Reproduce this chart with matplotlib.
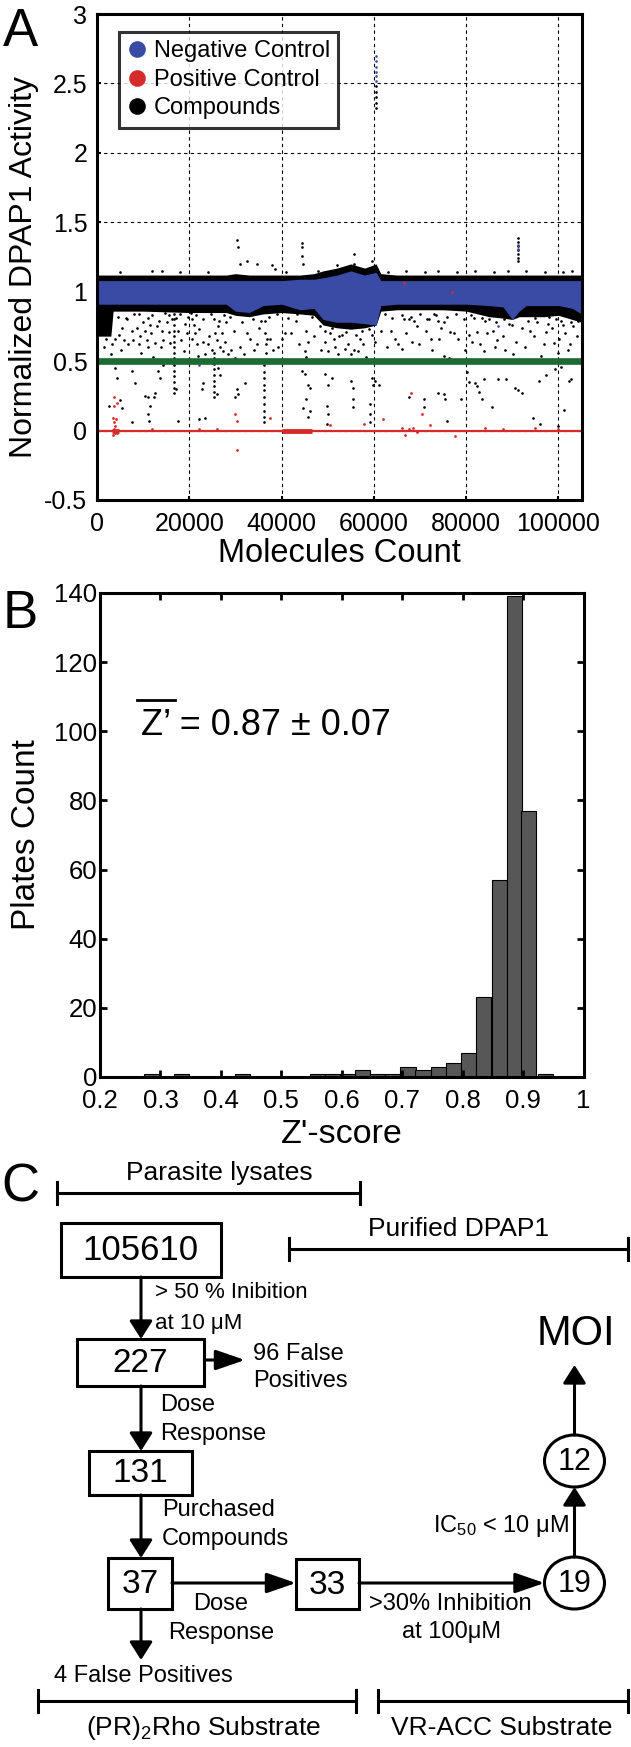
import numpy as np
import matplotlib
matplotlib.use("Agg")
import matplotlib.pyplot as plt
from matplotlib.patches import Rectangle, Ellipse
from matplotlib.lines import Line2D

plt.rcParams["font.family"] = ["Liberation Sans", "DejaVu Sans"]
plt.rcParams["mathtext.fontset"] = "custom"
plt.rcParams["mathtext.rm"] = "Liberation Sans"
plt.rcParams["mathtext.it"] = "Liberation Sans:italic"

# ---------------------------------------------------------------------------
# Panel A data  (molecule index in thousands, normalized activity)
# ---------------------------------------------------------------------------
ENV_X    = [0, 3, 3.5, 10, 20, 28, 30, 33, 36, 40, 44, 47, 49, 52, 55, 58, 60.5, 61.5,
            65, 70, 75, 80, 85, 88, 90, 91.5, 93, 97, 100, 103, 105]
BLACK_LO = [0.68, 0.68, 0.86, 0.86, 0.85, 0.85, 0.83, 0.82, 0.84, 0.85, 0.84, 0.83, 0.76,
            0.74, 0.73, 0.74, 0.76, 0.86, 0.87, 0.87, 0.87, 0.86, 0.82, 0.81, 0.80, 0.82,
            0.82, 0.82, 0.83, 0.80, 0.78]
BLACK_HI = [1.12, 1.12, 1.12, 1.12, 1.12, 1.12, 1.13, 1.12, 1.12, 1.12, 1.12, 1.13, 1.15,
            1.17, 1.20, 1.17, 1.20, 1.13, 1.12, 1.12, 1.12, 1.12, 1.12, 1.12, 1.12, 1.12,
            1.12, 1.12, 1.12, 1.12, 1.12]
BLUE_LO  = [0.91, 0.91, 0.91, 0.91, 0.91, 0.91, 0.86, 0.85, 0.90, 0.91, 0.87, 0.88, 0.80,
            0.78, 0.78, 0.77, 0.76, 0.90, 0.91, 0.91, 0.91, 0.91, 0.90, 0.89, 0.80, 0.86,
            0.90, 0.90, 0.90, 0.88, 0.84]
BLUE_HI  = [1.08, 1.08, 1.08, 1.08, 1.08, 1.08, 1.08, 1.08, 1.08, 1.08, 1.09, 1.09, 1.10,
            1.12, 1.15, 1.12, 1.14, 1.08, 1.08, 1.08, 1.08, 1.08, 1.08, 1.08, 1.08, 1.08,
            1.08, 1.08, 1.08, 1.08, 1.08]

CMPD_X = [4.8, 5.5, 5.9, 6.8, 7.5, 7.9, 8.6, 9.0, 9.3, 10.0, 10.4, 10.8, 11.1, 11.5, 11.8,
          12.6, 13.0, 13.8, 14.0, 14.4, 15.1, 15.5, 15.8, 16.2, 17.6, 18.3, 19.0, 3.2, 4.0,
          6.2, 8.0, 12.0, 14.8, 18.0, 19.5,
          16.7, 16.7, 16.7, 16.7, 16.7, 16.7, 16.7, 16.7, 16.7, 16.7, 16.7, 16.7, 16.7, 16.7, 16.7,
          3.9, 4.3, 7.5, 8.2, 10.4, 11.1, 11.5, 11.1, 11.3, 13.3, 13.6, 14.4, 2.5, 5.0, 5.4,
          7.5, 17.6, 17.2, 12.3, 12.6,
          30.3, 30.5, 32.5, 34.6, 38.0, 31.0, 14.1,
          20.3, 20.6, 21.0, 21.2, 20.5, 21.6, 22.2, 22.9, 24.3, 25.0, 25.3, 25.6, 26.0, 26.3,
          26.6, 27.0, 27.3, 27.6, 28.3, 29.0, 29.6, 29.9, 30.3, 30.6, 31.0, 32.4, 33.2, 34.6,
          35.0, 36.4, 36.5, 36.6, 36.7, 36.8, 38.2, 40.0, 40.7, 23.5, 28.0,
          25.3, 25.3, 25.3, 25.3, 25.3, 25.3, 25.3, 25.3, 25.3,
          36.1, 36.1, 36.1, 36.1, 36.1, 36.1, 36.1, 36.1, 36.1, 36.1, 36.1,
          23.0, 22.8, 26.3, 26.6, 32.0, 29.9, 30.6, 30.3, 26.0, 22.0, 23.4,
          44.4, 44.4, 44.4, 44.7, 55.6, 55.6, 59.5, 52.0,
          43.3, 45.1, 45.4, 45.8, 45.1, 45.4, 49.4, 49.4, 50.1, 50.9, 51.3, 51.6, 53.0, 53.7,
          54.4, 55.1, 55.8, 56.6, 57.7, 58.4, 59.5, 60.2, 61.6, 63.8, 65.2,
          44.4, 45.1, 45.8, 46.2, 45.4, 44.7, 46.2, 45.8, 49.4, 50.1, 50.9, 49.8, 50.1, 55.1,
          55.5, 55.5, 55.5, 59.5, 59.8, 60.2, 61.2, 59.1, 59.1, 59.1, 49.8,
          66.6, 67.6, 68.7, 69.4, 68.3, 72.0, 73.1, 73.8, 75.2, 74.5, 76.6, 77.3, 72.3, 74.1,
          66.2, 72.7, 75.2, 76.3, 81.7, 82.4, 83.1, 83.8, 80.6, 81.3, 83.4,
          67.6, 70.8, 70.8, 73.8, 75.2, 75.5, 78.8, 75.9, 80.2, 80.6, 82.0, 82.4, 82.7, 83.8, 83.4,
          85.0, 85.9, 86.7, 87.6, 88.5, 89.3, 90.2, 91.1, 92.0, 92.8, 94.6, 95.4, 96.3, 97.2,
          98.0, 99.0, 99.8, 100.6, 101.5, 102.4, 103.2, 103.8,
          85.7, 87.0, 88.7, 90.5, 91.3, 92.2, 94.4, 95.7, 97.4, 99.2, 100.5, 101.3, 102.2,
          102.7, 96.0, 100.0,
          5, 12, 18, 24, 38.5, 41, 48, 63, 67, 71, 74, 78, 82, 86, 89, 93, 97, 101, 103,
          91.3, 91.3, 91.2, 91.3, 91.2, 91.3, 91.2,
          60.5, 60.4, 60.5, 60.5, 60.4,
          2, 4.5, 6.5, 9, 11, 13.5, 15.5, 17.2, 19.8, 21.5, 23, 24.8, 26.5, 28.8, 31.5, 33.8,
          35.5, 37.2, 39, 41.5, 43.2, 46.5, 48.3, 50.5, 52.5, 54, 56.2, 57.5, 59, 62.5, 64,
          66, 68, 70, 71.5, 73.5, 75.8, 77.8, 79.5, 81, 84, 86.5, 88.3, 90, 93.5, 95, 97.8,
          99.5, 101, 102.8, 104.3,
          1.5, 3.0, 5.2, 9.6, 12.2, 18.8, 21.8, 24.0, 27.8, 31.8, 34.0, 37.5, 39.3, 42.0,
          43.8, 47.0, 48.6, 52.2, 57.0, 62.8, 64.5, 67.0, 69.8, 71.2, 78.2, 79.8, 84.6, 86.2,
          87.9, 90.8, 93.8, 96.8, 98.6, 100.2, 102.0, 104.0]
CMPD_Y = [0.69, 0.74, 0.65, 0.62, 0.72, 0.65, 0.74, 0.62, 0.68, 0.78, 0.72, 0.65, 0.60, 0.76, 0.70,
          0.63, 0.75, 0.60, 0.72, 0.65, 0.78, 0.71, 0.63, 0.80, 0.72, 0.65, 0.77, 0.62, 0.66,
          0.81, 0.84, 0.83, 0.85, 0.84, 0.70,
          0.84, 0.80, 0.76, 0.72, 0.68, 0.64, 0.60, 0.56, 0.52, 0.47, 0.43, 0.39, 0.35, 0.31, 0.27,
          0.45, 0.38, 0.43, 0.34, 0.25, 0.24, 0.18, 0.12, 0.07, 0.43, 0.38, 0.47, 0.18, 0.22, 0.16,
          0.06, 0.07, 0.30, 0.24, 0.27,
          1.37, 1.32, 1.22, 1.20, 1.19, 1.20, 1.15,
          0.85, 0.80, 0.76, 0.70, 0.66, 0.62, 0.73, 0.64, 0.68, 0.58, 0.80, 0.70, 0.65, 0.75,
          0.60, 0.70, 0.57, 0.83, 0.55, 0.58, 0.72, 0.52, 0.51, 0.50, 0.60, 0.70, 0.66, 0.62,
          0.74, 0.79, 0.70, 0.62, 0.56, 0.66, 0.58, 0.66, 0.70, 0.55, 0.78,
          0.56, 0.52, 0.48, 0.44, 0.40, 0.36, 0.32, 0.28, 0.24,
          0.50, 0.47, 0.42, 0.38, 0.33, 0.29, 0.24, 0.19, 0.14, 0.10, 0.06,
          0.34, 0.30, 0.45, 0.40, 0.34, 0.24, 0.26, 0.30, 0.26, 0.08, 0.09,
          1.35, 1.32, 1.26, 1.20, 1.27, 1.20, 1.22, 1.19,
          0.84, 0.85, 0.72, 0.64, 0.57, 0.53, 0.72, 0.64, 0.57, 0.74, 0.66, 0.60, 0.69, 0.59,
          0.62, 0.55, 0.58, 0.57, 0.62, 0.53, 0.69, 0.64, 0.72, 0.72, 0.62,
          0.43, 0.41, 0.33, 0.31, 0.23, 0.16, 0.14, 0.10, 0.41, 0.33, 0.38, 0.18, 0.12, 0.36,
          0.31, 0.23, 0.17, 0.38, 0.33, 0.36, 0.33, 0.19, 0.12, 0.06, 0.05,
          0.80, 0.80, 0.79, 0.75, 0.64, 0.80, 0.84, 0.79, 0.78, 0.74, 0.71, 0.70, 0.66, 0.66,
          0.59, 0.58, 0.54, 0.52, 0.81, 0.71, 0.62, 0.57, 0.69, 0.64, 0.81,
          0.24, 0.23, 0.17, 0.27, 0.26, 0.23, 0.23, 0.07, 0.42, 0.35, 0.34, 0.32, 0.28, 0.37, 0.23,
          0.80, 0.72, 0.65, 0.84, 0.58, 0.77, 0.55, 0.85, 0.74, 0.60, 0.68, 0.78, 0.54, 0.71,
          0.82, 0.63, 0.56, 0.79, 0.70, 0.62, 0.75, 0.84,
          0.17, 0.37, 0.37, 0.31, 0.29, 0.27, 0.09, 0.36, 0.40, 0.44, 0.46, 0.15, 0.36,
          0.37, 0.05, 0.03,
          1.14, 1.15, 1.14, 1.14, 1.16, 1.14, 1.15, 1.14, 1.15, 1.14, 1.15, 1.14, 1.15, 1.14,
          1.15, 1.15, 1.14, 1.14, 1.15,
          1.39, 1.36, 1.33, 1.30, 1.27, 1.24, 1.22,
          2.48, 2.44, 2.40, 2.36, 2.32,
          0.66, 0.82, 0.80, 0.84, 0.81, 0.79, 0.83, 0.81, 0.82, 0.83, 0.80, 0.84, 0.79, 0.82,
          0.78, 0.80, 0.79, 0.82, 0.84, 0.81, 0.79, 0.82, 0.75, 0.70, 0.68, 0.71, 0.69, 0.72,
          0.73, 0.84, 0.81, 0.83, 0.82, 0.84, 0.80, 0.83, 0.82, 0.84, 0.80, 0.83, 0.79, 0.78,
          0.80, 0.76, 0.79, 0.81, 0.77, 0.80, 0.76, 0.78, 0.79,
          0.60, 0.55, 0.58, 0.56, 0.53, 0.57, 0.54, 0.62, 0.64, 0.55, 0.58, 0.66, 0.60, 0.70,
          0.62, 0.68, 0.58, 0.55, 0.66, 0.60, 0.66, 0.70, 0.62, 0.72, 0.66, 0.58, 0.70, 0.60,
          0.68, 0.64, 0.72, 0.62, 0.74, 0.66, 0.58, 0.68]

NEG_X = [60.5, 60.4, 60.5, 60.5, 60.4, 60.5, 91.3, 91.3, 22.0, 87.0]
NEG_Y = [2.70, 2.66, 2.62, 2.58, 2.55, 2.52, 1.34, 1.31, 0.47, 0.75]

POS_X = [3.6, 4.3, 3.6, 3.4, 3.6, 3.9, 4.1, 3.7, 4.3, 3.5, 4.0, 29.9, 30.3, 37.5, 30.3,
         50.5, 57.8, 62.0, 68.0, 70.5, 66.0, 66.8, 67.6, 68.5, 69.3, 77.5, 66.6, 77.0,
         72.2, 84, 88, 95, 100, 12, 22, 26]
POS_Y = [0.24, 0.20, 0.18, 0.09, 0.06, 0.03, 0.08, 0.01, -0.02, -0.03, -0.02, 0.12, 0.07,
         0.09, -0.14, 0.04, 0.05, 0.08, 0.27, 0.12, 0.02, -0.03, 0.01, 0.02, -0.01, -0.04,
         1.06, 1.00, 0.04, 0.02, 0.01, 0.02, 0.01, 0.01, 0.01, 0.01]
POS_DENSE = [(3.3, 4.7), (40.0, 46.5)]
POS_LEVEL = 0.0
THRESHOLD = 0.5

A_YTICKS  = [-0.5, 0, 0.5, 1, 1.5, 2, 2.5, 3]
A_YLABELS = ["-0.5", "0", "0.5", "1", "1.5", "2", "2.5", "3"]
A_XTICKS  = [0, 20000, 40000, 60000, 80000, 100000]

# ---------------------------------------------------------------------------
# Panel B data  (Z'-score histogram)
# ---------------------------------------------------------------------------
BIN_LEFT = [0.272, 0.322, 0.423, 0.548, 0.572, 0.597, 0.622, 0.647, 0.672, 0.697, 0.722,
            0.747, 0.772, 0.797, 0.822, 0.848, 0.873, 0.897, 0.924]
BIN_W    = 0.0252
COUNTS   = [1, 1, 1, 1, 1, 1, 2, 1, 1, 3, 2, 3, 4, 7, 23, 57, 139, 77, 1]
B_XTICKS = [0.2, 0.3, 0.4, 0.5, 0.6, 0.7, 0.8, 0.9, 1.0]
B_XLABELS = ["0.2", "0.3", "0.4", "0.5", "0.6", "0.7", "0.8", "0.9", "1"]
B_YTICKS = [0, 20, 40, 60, 80, 100, 120, 140]

NEG_BLUE = "#3a4ba6"
POS_RED  = "#d42b2b"
GREEN    = "#1d6b30"

W, H = 631, 1747
fig = plt.figure(figsize=(W / 100, H / 100), dpi=100)


def frac(x0, y0, x1, y1):
    return [x0 / W, 1 - y1 / H, (x1 - x0) / W, (y1 - y0) / H]


# --------------------------- panel A ---------------------------------------
axA = fig.add_axes(frac(97, 14, 581.5, 500))
ex = np.array(ENV_X) * 1000
axA.fill_between(ex, BLACK_LO, BLACK_HI, color="black", lw=0, zorder=2)
axA.plot(np.array(CMPD_X) * 1000, CMPD_Y, "o", color="black", ms=1.9, mew=0, zorder=3)
axA.fill_between(ex, BLUE_LO, BLUE_HI, color=NEG_BLUE, lw=0, zorder=4)
axA.plot(np.array(NEG_X) * 1000, NEG_Y, "o", color=NEG_BLUE, ms=1.9, mew=0, zorder=4)
axA.axhline(POS_LEVEL, color=POS_RED, lw=1.6, zorder=5)
for a, b in POS_DENSE:
    axA.plot([a * 1000, b * 1000], [POS_LEVEL, POS_LEVEL], color=POS_RED, lw=3.5,
             solid_capstyle="butt", zorder=5)
axA.plot(np.array(POS_X) * 1000, POS_Y, "o", color=POS_RED, ms=2.0, mew=0, zorder=6)
axA.axhline(THRESHOLD, color=GREEN, lw=4.8, zorder=7)

axA.set_xlim(0, 105000)
axA.set_ylim(-0.5, 3)
axA.set_yticks(A_YTICKS)
axA.set_yticklabels(A_YLABELS)
axA.set_xticks(A_XTICKS)
axA.set_xticklabels([str(v) for v in A_XTICKS])
axA.grid(True, color="black", lw=0.8, ls=(0, (3, 3)), zorder=1)
axA.set_axisbelow(True)
axA.tick_params(direction="in", length=3, width=1.5, labelsize=18, pad=7)
axA.tick_params(axis="x", pad=9)
for s in axA.spines.values():
    s.set_linewidth(2.2)
    s.set_zorder(10)
axA.set_xlabel("Molecules Count", fontsize=23.5, labelpad=1)
axA.set_ylabel("Normalized DPAP1 Activity", fontsize=23, labelpad=4)
axA.yaxis.set_label_coords(-0.12, 0.48)

handles = [Line2D([], [], ls="none", marker="o", ms=12, mew=0, color=c)
           for c in (NEG_BLUE, POS_RED, "black")]
leg = axA.legend(handles, ["Negative Control", "Positive Control", "Compounds"],
                 loc="upper left", bbox_to_anchor=(0.046, 0.963), borderaxespad=0,
                 fontsize=17, frameon=True, fancybox=False, handlelength=0.8,
                 handletextpad=0.3, labelspacing=0.28, borderpad=0.35)
leg.get_frame().set_edgecolor("black")
leg.get_frame().set_linewidth(2.2)
leg.set_zorder(20)

# --------------------------- panel B ---------------------------------------
axB = fig.add_axes(frac(100, 593, 583.5, 1077))
axB.bar(BIN_LEFT, COUNTS, width=BIN_W, align="edge", color="#575757",
        edgecolor="black", lw=0.8)
axB.set_xlim(0.2, 1.0)
axB.set_ylim(0, 140)
axB.set_xticks(B_XTICKS)
axB.set_xticklabels(B_XLABELS)
axB.set_yticks(B_YTICKS)
axB.tick_params(direction="in", length=5, width=2, labelsize=18.5, top=True, right=True)
axB.tick_params(axis="y", pad=2)
axB.tick_params(axis="x", pad=9)
for s in axB.spines.values():
    s.set_linewidth(2.2)
axB.set_xlabel("Z'-score", fontsize=24.5, labelpad=4)
axB.set_ylabel("Plates Count", fontsize=24, labelpad=4)
axB.yaxis.set_label_coords(-0.12, 0.5)

# --------------------------- overlay: labels + flowchart --------------------
ov = fig.add_axes([0, 0, 1, 1])
ov.set_xlim(0, W)
ov.set_ylim(H, 0)
ov.axis("off")
ov.patch.set_alpha(0)

for lab, (x, y) in {"A": (20, 32), "B": (20, 614), "C": (20, 1188)}.items():
    ov.text(x, y, lab, fontsize=38, ha="center", va="center")

ov.text(141, 725, "Z\u2019 = 0.87 \u00b1 0.07", fontsize=26, ha="left", va="center")
ov.plot([137, 175], [700, 700], color="black", lw=2)

LW = 2.2


def bracket(y, x0, x1):
    ov.plot([x0, x1], [y, y], color="black", lw=LW)
    for x in (x0, x1):
        ov.plot([x, x], [y - 11, y + 11], color="black", lw=LW)


def box(x0, x1, y0, y1, label, size=24):
    ov.add_patch(Rectangle((x0, y0), x1 - x0, y1 - y0, fill=False, lw=LW, ec="black"))
    ov.text((x0 + x1) / 2, (y0 + y1) / 2 + 1, label, fontsize=size, ha="center", va="center")


def circle(cx, cy, label):
    ov.add_patch(Ellipse((cx, cy), 60, 52, fill=False, lw=LW, ec="black"))
    ov.text(cx, cy + 1, label, fontsize=22, ha="center", va="center")


def arrow(x0, y0, x1, y1):
    # heads look wider on vertical arrows and longer on horizontal ones
    if x0 == x1:
        style = "-|>,head_length=1.1,head_width=0.7"
    else:
        style = "-|>,head_length=1.8,head_width=0.62"
    ov.annotate("", xy=(x1, y1), xytext=(x0, y0),
                arrowprops=dict(arrowstyle=style, mutation_scale=10, lw=LW,
                                color="black", shrinkA=0, shrinkB=0))


bracket(1193, 57, 360)
ov.text(219, 1173, "Parasite lysates", fontsize=19, ha="center", va="center")
bracket(1249, 289, 628)
ov.text(459, 1229, "Purified DPAP1", fontsize=19, ha="center", va="center")
bracket(1701, 38, 356)
ov.text(203, 1728, "(PR)$_2$Rho Substrate", fontsize=19, ha="center", va="center")
bracket(1701, 378, 628)
ov.text(502, 1728, "VR-ACC Substrate", fontsize=19, ha="center", va="center")

box(61, 220.5, 1223, 1277, "105610", 25)
box(77, 204, 1339, 1386, "227")
box(88.5, 192, 1451, 1495, "131")
box(108, 172, 1558, 1609, "37")
box(296, 359, 1559, 1609, "33")
circle(574.5, 1583, "19")
circle(574.5, 1461, "12")

arrow(141, 1277, 141, 1339)
arrow(205, 1360, 245, 1360)
arrow(141, 1386, 141, 1451)
arrow(141, 1495, 141, 1558)
arrow(172, 1583, 296, 1583)
arrow(359, 1583, 544.5, 1583)
arrow(574.5, 1557, 574.5, 1487)
arrow(574.5, 1435, 574.5, 1365)
arrow(141, 1609, 141, 1660)

fs = 17
ov.text(155, 1293, "> 50 % Inibition", fontsize=16, ha="left", va="center")
ov.text(155, 1323, "at 10 \u03bcM", fontsize=16, ha="left", va="center")
ov.text(253, 1354, "96 False", fontsize=fs, ha="left", va="center")
ov.text(253, 1381, "Positives", fontsize=fs, ha="left", va="center")
ov.text(160, 1405, "Dose", fontsize=fs, ha="left", va="center")
ov.text(160, 1434, "Response", fontsize=fs, ha="left", va="center")
ov.text(162, 1510, "Purchased", fontsize=fs, ha="left", va="center")
ov.text(162, 1539, "Compounds", fontsize=fs, ha="left", va="center")
ov.text(221, 1604, "Dose", fontsize=fs, ha="center", va="center")
ov.text(221, 1633, "Response", fontsize=fs, ha="center", va="center")
ov.text(450, 1604, ">30% Inhibition", fontsize=fs, ha="center", va="center")
ov.text(452, 1632, "at 100\u03bcM", fontsize=fs, ha="center", va="center")
ov.text(569, 1526, "IC$_{50}$ < 10 \u03bcM", fontsize=fs, ha="right", va="center")
ov.text(576, 1334, "MOI", fontsize=30, ha="center", va="center")
ov.text(54, 1676, "4 False Positives", fontsize=fs, ha="left", va="center")

fig.savefig("out.png", dpi=100)
